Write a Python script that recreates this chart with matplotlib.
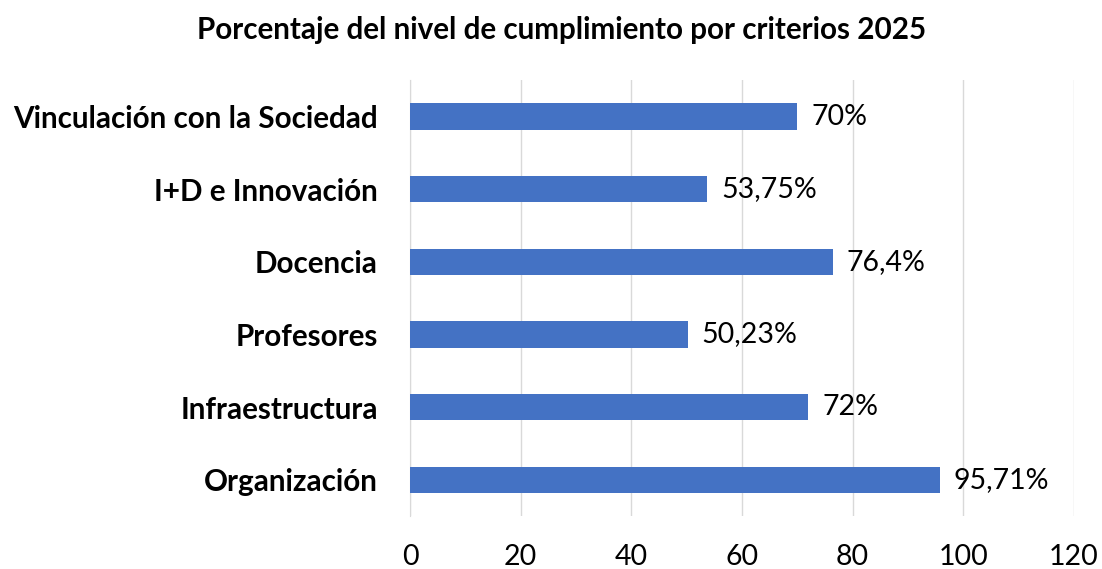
import matplotlib
matplotlib.use("Agg")
import matplotlib.pyplot as plt

categories = ["Organización", "Infraestructura", "Profesores", "Docencia",
              "I+D e Innovación", "Vinculación con la Sociedad"]
values = [95.71, 72, 50.23, 76.4, 53.75, 70]
labels = ["95,71%", "72%", "50,23%", "76,4%", "53,75%", "70%"]
xticks = [0, 20, 40, 60, 80, 100, 120]
title = "Porcentaje del nivel de cumplimiento por criterios 2025"

plt.rcParams['font.family'] = ['Lato', 'DejaVu Sans']

fig = plt.figure(figsize=(11.02, 5.69), dpi=100)
ax = fig.add_axes([0.372, 0.093, 0.6026, 0.766])

y = range(len(categories))
ax.barh(y, values, height=0.36, color="#4472C4", zorder=3)
for yi, v, lab in zip(y, values, labels):
    ax.annotate(lab, (v, yi), xytext=(10, 0), textcoords="offset points",
                va="center", ha="left", fontsize=20.5, color="#000000")

ax.set_xlim(0, 120)
ax.set_ylim(-0.5, len(categories) - 0.5)
ax.set_xticks(xticks)
ax.set_xticklabels([str(t) for t in xticks], fontsize=20.5)
ax.set_yticks(list(y))
ax.set_yticklabels(categories, fontsize=21.3, fontweight="bold")
ax.tick_params(axis="both", length=0)
ax.tick_params(axis="x", pad=20)
ax.tick_params(axis="y", pad=23)
ax.grid(axis="x", color="#D9D9D9", linewidth=1, zorder=0)
for s in ["top", "right", "bottom"]:
    ax.spines[s].set_visible(False)
ax.spines["left"].set_color("#D9D9D9")

fig.text(0.51, 0.947, title, ha="center", va="center", fontsize=21.3, fontweight="bold")
fig.savefig("out.png", dpi=100, facecolor="white")
